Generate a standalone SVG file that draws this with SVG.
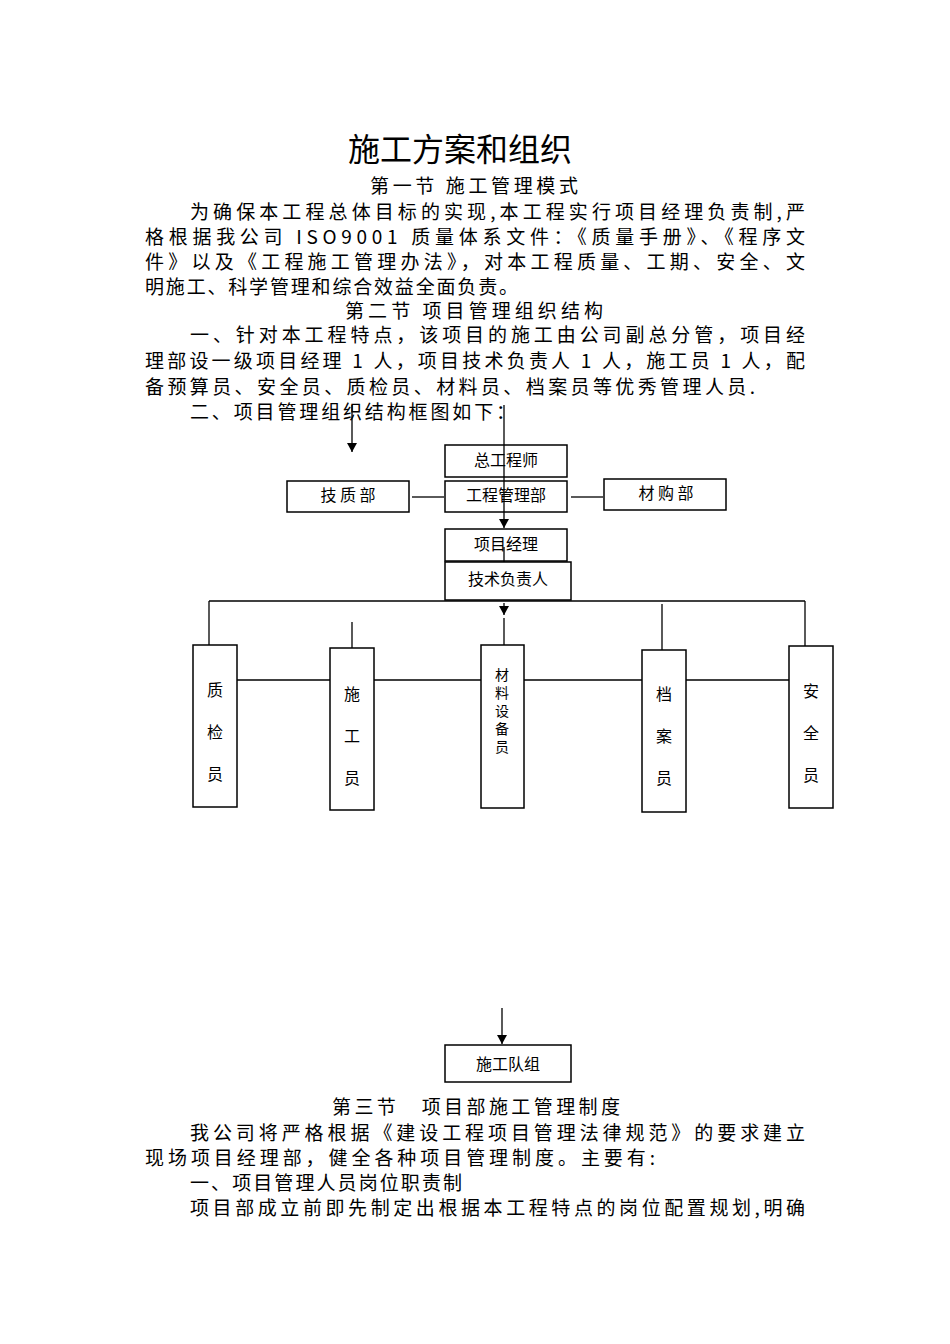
<svg xmlns="http://www.w3.org/2000/svg" width="950" height="1344" viewBox="0 0 950 1344">
<style>
text{font-family:"Noto Sans CJK SC","Liberation Serif",serif;fill:#000}
.b{font-size:19px}
.n{font-size:16px}
.s{font-size:14px}
.box{fill:#fff;stroke:#000;stroke-width:1.5}
line{stroke:#000;stroke-width:1.3}
</style>
<defs><marker id="a" markerWidth="10" markerHeight="10" refX="9" refY="5" orient="auto" markerUnits="userSpaceOnUse"><path d="M0,0L9,5L0,10Z" fill="#000"/></marker></defs>
<rect width="950" height="1344" fill="#fff"/>
<text x="460" y="161" font-size="32" text-anchor="middle" style="font-family:'Noto Sans CJK SC',sans-serif">施工方案和组织</text>
<g class="b">
<text x="370" y="193" textLength="208" class="b">第一节 施工管理模式</text>
<text x="190" y="219" textLength="615" class="b">为确保本工程总体目标的实现,本工程实行项目经理负责制,严</text>
<text x="145" y="244" textLength="660" class="b">格根据我公司 ISO9001 质量体系文件：《质量手册》、《程序文</text>
<text x="145" y="269" textLength="660" class="b">件》以及《工程施工管理办法》，对本工程质量、工期、安全、文</text>
<text x="145" y="294" textLength="373" class="b">明施工、科学管理和综合效益全面负责。</text>
<text x="345" y="318" textLength="258" class="b">第二节 项目管理组织结构</text>
<text x="190" y="342" textLength="615" class="b">一、针对本工程特点，该项目的施工由公司副总分管，项目经</text>
<text x="145" y="368" textLength="660" class="b">理部设一级项目经理 1 人，项目技术负责人 1 人，施工员 1 人，配</text>
<text x="145" y="394" textLength="610" class="b">备预算员、安全员、质检员、材料员、档案员等优秀管理人员.</text>
<text x="190" y="419" textLength="325" class="b">二、项目管理组织结构框图如下：</text>
<text x="332" y="1114" textLength="288" class="b">第三节　项目部施工管理制度</text>
<text x="190" y="1140" textLength="615" class="b">我公司将严格根据《建设工程项目管理法律规范》的要求建立</text>
<text x="145" y="1165" textLength="510" class="b">现场项目经理部，健全各种项目管理制度。主要有:</text>
<text x="190" y="1190" textLength="272" class="b">一、项目管理人员岗位职责制</text>
<text x="190" y="1215" textLength="615" class="b">项目部成立前即先制定出根据本工程特点的岗位配置规划,明确</text>
</g>
<g id="connectors">
<line x1="352" y1="405" x2="352" y2="452" marker-end="url(#a)"/>
<line x1="412" y1="497" x2="444" y2="497"/>
<line x1="571" y1="497" x2="603" y2="497"/>
<line x1="209" y1="601" x2="805" y2="601"/>
<line x1="209" y1="601" x2="209" y2="645"/>
<line x1="805" y1="601" x2="805" y2="646"/>
<line x1="352" y1="622" x2="352" y2="648"/>
<line x1="504" y1="603" x2="504" y2="615" marker-end="url(#a)"/>
<line x1="504" y1="618" x2="504" y2="645"/>
<line x1="662" y1="604" x2="662" y2="650"/>
<line x1="237" y1="680" x2="789" y2="680"/>
<line x1="502" y1="1008" x2="502" y2="1044" marker-end="url(#a)"/>
</g>
<g id="n1"><rect class="box" x="445" y="445" width="122" height="32"/><text x="506" y="466" class="n" text-anchor="middle">总工程师</text></g>
<g id="n2"><rect class="box" x="445" y="481" width="122" height="31"/><text x="506" y="501" class="n" text-anchor="middle">工程管理部</text></g>
<g id="n3"><rect class="box" x="287" y="481" width="122" height="31"/><text x="348" y="501" class="n" text-anchor="middle">技 质 部</text></g>
<g id="n4"><rect class="box" x="604" y="479" width="122" height="31"/><text x="666" y="499" class="n" text-anchor="middle">材 购 部</text></g>
<g id="n5"><rect class="box" x="445" y="529" width="122" height="32"/><text x="506" y="550" class="n" text-anchor="middle">项目经理</text></g>
<g id="n6"><rect class="box" x="445" y="562" width="126" height="38"/><text x="508" y="585" class="n" text-anchor="middle">技术负责人</text></g>
<line x1="504" y1="405" x2="504" y2="528" marker-end="url(#a)" style="stroke:#000;stroke-width:1.3"/>
<line x1="504" y1="547" x2="504" y2="562"/>
<g id="n7"><rect class="box" x="193" y="645" width="44" height="162"/><text x="215" y="696" class="n" text-anchor="middle">质</text><text x="215" y="738" class="n" text-anchor="middle">检</text><text x="215" y="780" class="n" text-anchor="middle">员</text></g>
<g id="n8"><rect class="box" x="330" y="648" width="44" height="162"/><text x="352" y="700" class="n" text-anchor="middle">施</text><text x="352" y="742" class="n" text-anchor="middle">工</text><text x="352" y="784" class="n" text-anchor="middle">员</text></g>
<g id="n9"><rect class="box" x="481" y="645" width="43" height="163"/><text x="502" y="680" class="s" text-anchor="middle">材</text><text x="502" y="698" class="s" text-anchor="middle">料</text><text x="502" y="716" class="s" text-anchor="middle">设</text><text x="502" y="734" class="s" text-anchor="middle">备</text><text x="502" y="752" class="s" text-anchor="middle">员</text></g>
<g id="n10"><rect class="box" x="642" y="650" width="44" height="162"/><text x="664" y="700" class="n" text-anchor="middle">档</text><text x="664" y="742" class="n" text-anchor="middle">案</text><text x="664" y="784" class="n" text-anchor="middle">员</text></g>
<g id="n11"><rect class="box" x="789" y="646" width="44" height="162"/><text x="811" y="697" class="n" text-anchor="middle">安</text><text x="811" y="739" class="n" text-anchor="middle">全</text><text x="811" y="781" class="n" text-anchor="middle">员</text></g>
<g id="n12"><rect class="box" x="445" y="1045" width="126" height="37"/><text x="508" y="1070" class="n" text-anchor="middle">施工队组</text></g>
</svg>
